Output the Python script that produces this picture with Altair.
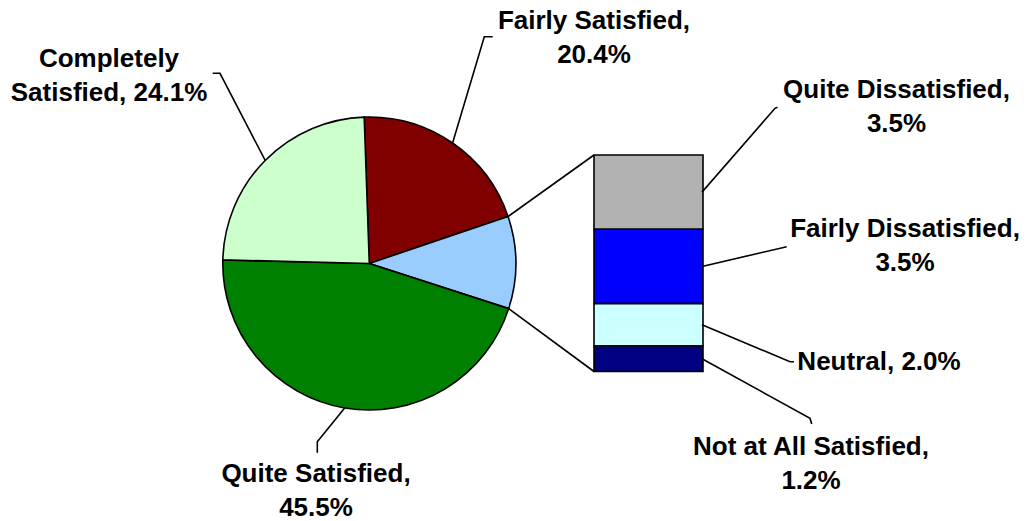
import math

import altair as alt
import pandas as pd

# Main pie: the four top-level answers ("Other" is broken out in the bar)
pie_names = ["Fairly Satisfied", "Other", "Quite Satisfied", "Completely Satisfied"]
pie_values = [20.4, 10.2, 45.5, 24.1]
pie_colors = ["#800000", "#99CCFF", "#008000", "#CCFFCC"]

# Breakdown of "Other", top to bottom
bar_names = ["Quite Dissatisfied", "Fairly Dissatisfied", "Neutral", "Not at All Satisfied"]
bar_values = [3.5, 3.5, 2.0, 1.2]
bar_colors = ["#B2B2B2", "#0000FF", "#CCFFFF", "#000080"]

# ---- layout -------------------------------------------------------------
W, H = 1026, 521
CX, CY, R = 369.3, 263.5, 146.5          # pie centre and radius (px)
START_DEG = -2.0                          # first slice starts just left of 12 o'clock
BAR_X0, BAR_X1 = 594, 703                 # stacked bar edges (px)
BAR_TOP, BAR_BOTTOM = 155, 371.5

FONT = "Liberation Sans"
FONT_SIZE = 26
LINE_H = 34

pie_total = sum(pie_values)
other_total = pie_values[pie_names.index("Other")]


def pie_point(deg, r=R):
    rad = math.radians(deg)
    return CX + r * math.sin(rad), CY - r * math.cos(rad)


# slice angles (degrees clockwise from 12 o'clock)
angles = []
acc = START_DEG
for v in pie_values:
    a0 = acc
    acc += v / pie_total * 360.0
    angles.append((a0, acc))
slice_angle = dict(zip(pie_names, angles))

# bar segment extents in value units
bar_rows = []
acc = 0.0
for i, (n, v, c) in enumerate(zip(bar_names, bar_values, bar_colors)):
    bar_rows.append({"name": n, "value": v, "y0": acc, "y1": acc + v, "color": c})
    acc += v
bar_df = pd.DataFrame(bar_rows)


def bar_px(v):
    return BAR_TOP + v / other_total * (BAR_BOTTOM - BAR_TOP)


pie_df = pd.DataFrame({
    "name": pie_names,
    "value": pie_values,
    "color": pie_colors,
    "order": list(range(len(pie_names))),
})

start_rad = 2 * math.pi + math.radians(START_DEG)
pie = alt.Chart(pie_df).mark_arc(radius=R, stroke="black", strokeWidth=1.6).encode(
    theta=alt.Theta("value:Q", stack=True,
                    scale=alt.Scale(domain=[0, pie_total], range=[start_rad, start_rad + 2 * math.pi])),
    color=alt.Color("color:N", scale=None),
    order=alt.Order("order:Q"),
    x=alt.value(CX),
    y=alt.value(CY),
)

bar = alt.Chart(bar_df).mark_rect(stroke="black", strokeWidth=1.6).encode(
    x=alt.value(BAR_X0),
    x2=alt.value(BAR_X1),
    y=alt.Y("y0:Q", scale=alt.Scale(domain=[0, other_total], range=[BAR_TOP, BAR_BOTTOM]), axis=None),
    y2="y1:Q",
    color=alt.Color("color:N", scale=None),
)

# connectors from the "Other" slice edges to the bar's left corners
o0, o1 = slice_angle["Other"]
p_top = pie_point(o0)
p_bot = pie_point(o1)
conn_df = pd.DataFrame([
    {"x": p_top[0], "y": p_top[1], "x2": BAR_X0, "y2": bar_px(0)},
    {"x": p_bot[0], "y": p_bot[1], "x2": BAR_X0, "y2": bar_px(other_total)},
])
connectors = alt.Chart(conn_df).mark_rule(color="black", strokeWidth=1.6).encode(
    x=alt.X("x:Q", scale=None), y=alt.Y("y:Q", scale=None),
    x2="x2:Q", y2="y2:Q",
)

# label leader lines: start on the mark, then run to the label
elbows = {
    "Completely Satisfied": [(220.0, 73.3), (212.7, 73.3)],
    "Fairly Satisfied": [(484.3, 36.7), (492.7, 36.7)],
    "Quite Satisfied": [(317.3, 441.7), (317.3, 452.7)],
    "Quite Dissatisfied": [(775.0, 108.3), (777.5, 107.3)],
    "Fairly Dissatisfied": [(786.7, 246.7)],
    "Neutral": [(790.0, 361.7), (794.0, 361.7)],
    "Not at All Satisfied": [(810.0, 418.3), (811.7, 424.0)],
}

anchors = {}
for n in pie_names:
    if n == "Other":
        continue
    a0, a1 = slice_angle[n]
    anchors[n] = pie_point((a0 + a1) / 2)
for row in bar_rows:
    anchors[row["name"]] = (BAR_X1 - 1, bar_px((row["y0"] + row["y1"]) / 2))

lead_rows = []
for n, pts in elbows.items():
    for k, (x, y) in enumerate([anchors[n]] + pts):
        lead_rows.append({"name": n, "seq": k, "x": x, "y": y})
leaders = alt.Chart(pd.DataFrame(lead_rows)).mark_line(color="black", strokeWidth=1.6).encode(
    x=alt.X("x:Q", scale=None),
    y=alt.Y("y:Q", scale=None),
    detail="name:N",
    order="seq:Q",
)

# data labels: centre x and first-line baseline
label_pos = {
    "Completely Satisfied": (109, 67),
    "Fairly Satisfied": (594, 28.5),
    "Quite Satisfied": (316, 482),
    "Quite Dissatisfied": (896.5, 98.3),
    "Fairly Dissatisfied": (905, 237),
    "Neutral": (879, 370),
    "Not at All Satisfied": (811, 455),
}
wrap = {
    "Completely Satisfied": "word",
    "Fairly Satisfied": "comma",
    "Quite Satisfied": "comma",
    "Quite Dissatisfied": "comma",
    "Fairly Dissatisfied": "comma",
    "Neutral": None,
    "Not at All Satisfied": "comma",
}
values = dict(zip(pie_names, pie_values))
values.update(dict(zip(bar_names, bar_values)))

label_rows = []
for n, (x, y) in label_pos.items():
    t = f"{n}, {values[n]:.1f}%"
    if wrap[n] == "word":
        t = t.replace(" ", "\n", 1)
    elif wrap[n] == "comma":
        t = t.replace(", ", ",\n")
    label_rows.append({"x": x, "y": y, "text": t})

labels = alt.Chart(pd.DataFrame(label_rows)).mark_text(
    font=FONT, fontSize=FONT_SIZE, fontWeight="bold", color="black",
    align="center", baseline="alphabetic", lineBreak="\n", lineHeight=LINE_H,
).encode(
    x=alt.X("x:Q", scale=None),
    y=alt.Y("y:Q", scale=None),
    text="text:N",
)

chart = alt.layer(pie, bar, connectors, leaders, labels).resolve_scale(
    x="independent", y="independent"
).properties(
    width=W, height=H,
    autosize=alt.AutoSizeParams(type="none"),
    padding=0,
    background="white",
).configure_view(stroke=None)

chart.save("out.html", embed_options={"renderer": "svg", "actions": False})
